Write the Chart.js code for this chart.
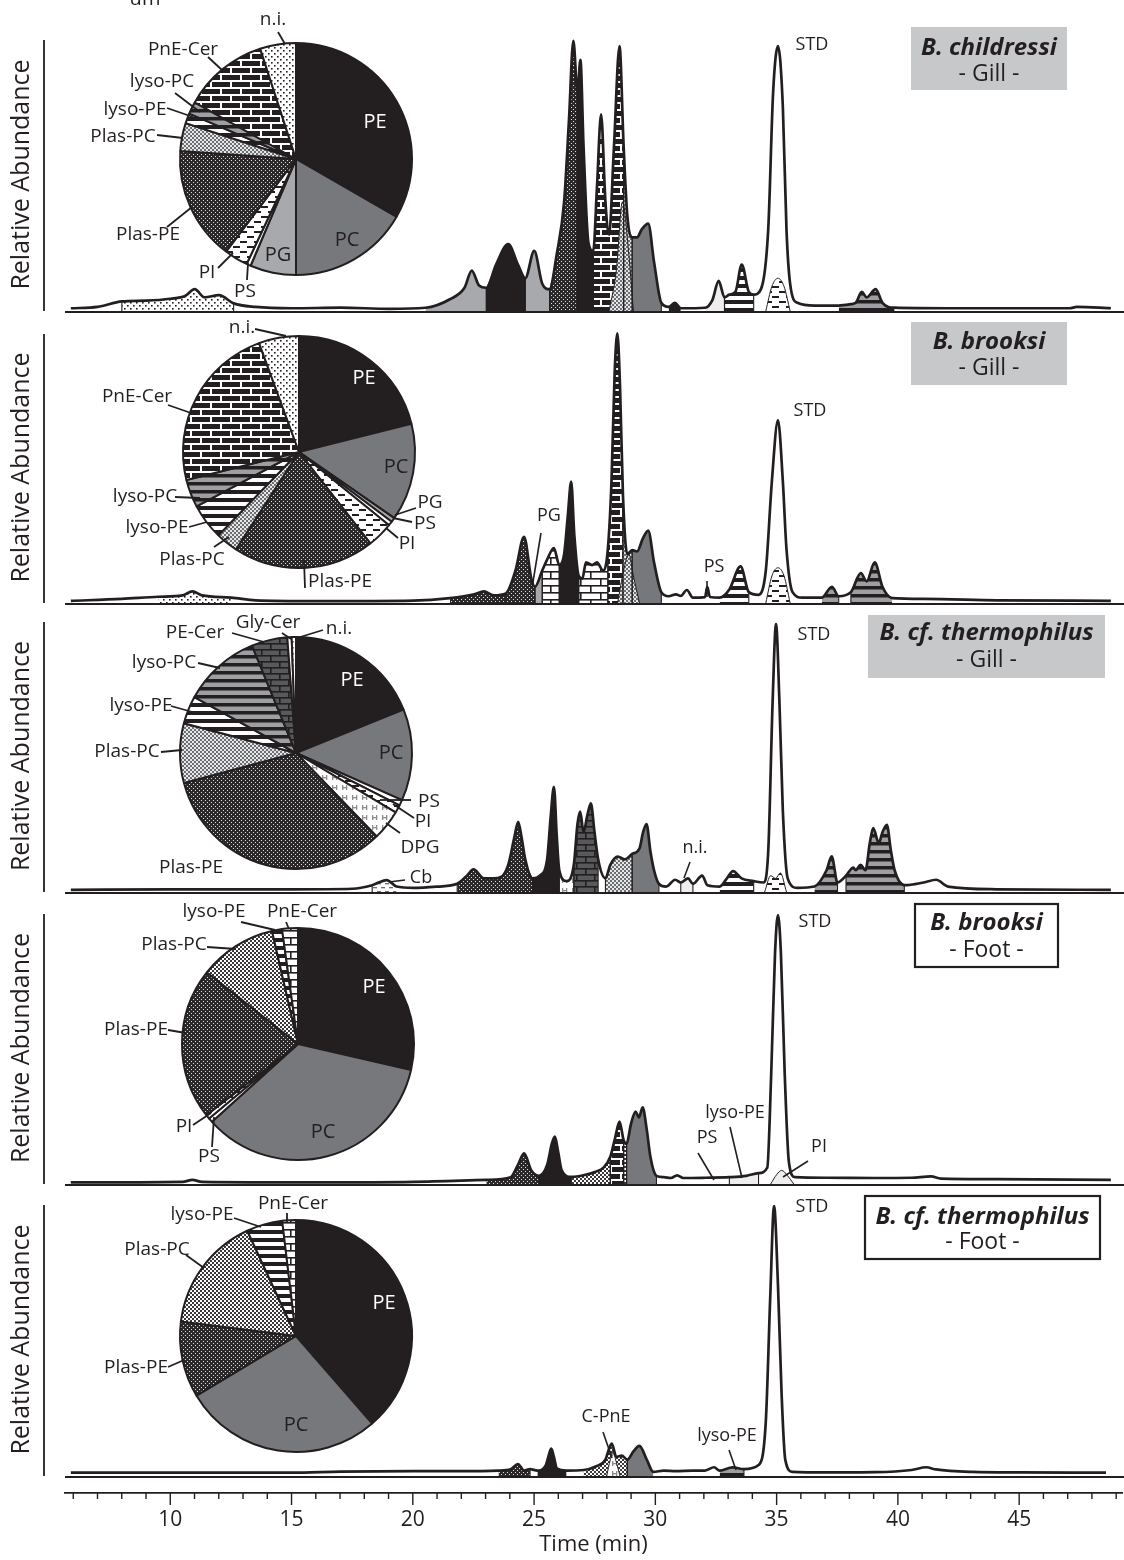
<!DOCTYPE html>
<html><head><meta charset="utf-8">
<script src="https://cdn.jsdelivr.net/npm/chart.js@4.4.1/dist/chart.umd.min.js"></script>
<style>
html,body{margin:0;padding:0;background:#fff;}
#wrap{position:relative;width:1124px;height:1560px;overflow:hidden;background:#fff;}
#wrap canvas{position:absolute;}
</style></head><body><div id="wrap"></div>
<script>
// ---------------- DATA ----------------
const xMin = 5.66, xMax = 49.24;
const timeTickLabels = [10, 15, 20, 25, 30, 35, 40, 45];

// Panel 1: B. childressi gill
const p1Time = [5.9,7.0,8.0,9.0,10.0,10.6,11.0,11.4,12.0,12.6,13.5,15,17,19,20.5,21.5,22.1,22.4,22.7,23.0,23.4,23.9,24.3,24.6,24.97,25.3,25.6,25.9,26.2,26.4,26.58,26.75,26.87,27.0,27.2,27.4,27.55,27.72,27.9,28.05,28.25,28.48,28.65,28.8,29.0,29.2,29.4,29.66,29.9,30.2,30.5,30.76,31.0,32.0,32.3,32.56,32.8,33.0,33.25,33.51,33.8,34.0,34.3,34.6,34.8,35.0,35.2,35.35,35.5,35.8,36.5,37.5,38.0,38.2,38.45,38.65,39.02,39.3,39.8,42,47,47.3,48.7];
const p1Abund = [1.0,1.5,3.5,3.8,4.5,5.5,8.0,5.0,5.8,2.8,1.5,1.0,1.2,0.8,1.2,4.3,8.5,14.8,9.3,8.5,17,24.5,17,12,22,10,8,21,40,70,99,80,92,60,25,22,45,72,40,28,60,97,60,35,27,27,30,32,18,3,1.5,3,1,1.2,4,11,5,6,7,17,7,6,8,30,80,97,75,30,10,3,2,2,2.5,3,7,5,8,3,1.2,1.0,1.0,1.5,1.0];
const p1Fills = [['ni',8.0,12.6],['PG',20.5,23.0],['PE',23.0,24.6],['PG',24.6,25.6],['PlasPE',25.6,26.75],['PE',26.75,27.4],['PnECer',27.4,28.65],['PlasPC',28.65,29.0],['PC',29.0,30.2],['PE',30.5,31.0],['light',32.0,32.8],['lysoPE',32.8,34.0],['lysoPC',37.5,39.8]];
const p1SubTime = [[28.05,28.35,28.6,28.85,29.05],[34.5,34.75,35.0,35.25,35.5]];
const p1SubAbund = [[0,15,40,22,0],[0,9,12,9,0]];
const p1SubClass = ['PlasPC','PI'];

// Panel 2: B. brooksi gill
const p2Time = [5.9,8,9.5,10.5,10.9,11.3,12.5,13.5,16,20,21.5,22.5,22.9,23.3,23.8,24.2,24.55,24.85,25.0,25.3,25.5,25.78,26.0,26.2,26.35,26.49,26.62,26.8,26.95,27.1,27.35,27.55,27.8,28.0,28.15,28.28,28.39,28.5,28.62,28.8,29.0,29.2,29.45,29.66,29.9,30.2,30.5,30.8,31.0,31.25,31.5,32.0,32.09,32.2,32.6,33.0,33.46,33.8,34.2,34.5,34.75,35.0,35.2,35.35,35.6,36.0,36.8,37.22,37.5,38.0,38.41,38.65,38.98,39.3,39.7,41,44,48.7];
const p2Abund = [0.8,1.5,2.3,2.8,4.3,2.8,2.0,1.0,0.7,0.9,1.8,3.2,4.3,2.8,3.5,12,24.4,9,6,12,16,20.3,14,18,32,44.8,25,10,9,15,14,15,12,20,45,85,99.5,80,40,18,19.5,19,24,26.7,15,4,2.5,3.2,2.6,4.8,2,2.2,6,2.2,2.0,5,13.5,4,3,12,45,67.5,45,20,4,2,2,6,2.5,4,11,8,15,6,1.8,1.5,1.0,0.8];
const p2Fills = [['ni',9.5,12.5],['PlasPE',21.5,23.8],['PlasPE',23.8,25.0],['PG',25.0,25.3],['PnECerW',25.3,26.0],['PE',26.0,26.8],['PnECerW',26.8,28.0],['PnECer',28.0,28.62],['PlasPC',28.62,29.0],['PC',29.0,30.2],['lysoPE',32.6,33.8],['lysoPC',36.8,37.5],['lysoPC',38.0,39.7]];
const p2SubTime = [[28.4,28.65,28.86,29.05,29.3],[34.5,34.75,35.0,35.25,35.5]];
const p2SubAbund = [[0,12,18,10,0],[0,10,13,10,0]];
const p2SubClass = ['PlasPC','PI'];

// Panel 3: B. cf. thermophilus gill
const p3Time = [5.9,10,15,17.5,18.3,18.9,19.3,20,21,21.8,22.2,22.47,22.9,23.3,23.6,23.9,24.15,24.31,24.45,24.6,24.9,25.2,25.5,25.65,25.78,25.9,26.0,26.3,26.6,26.75,26.86,27.0,27.15,27.3,27.45,27.6,27.9,28.1,28.41,28.7,29.0,29.3,29.45,29.59,29.75,29.9,30.1,30.4,30.77,31.0,31.3,31.5,31.88,32.1,32.6,32.9,33.15,33.5,34.0,34.4,34.6,34.78,34.92,35.06,35.2,35.4,35.8,36.5,37.0,37.21,37.45,37.8,38.1,38.2,38.4,38.6,38.78,38.92,39.15,39.3,39.48,39.65,39.8,40.2,41.0,41.51,42,44,48.7];
const p3Abund = [0.8,1,1,1.2,2.5,4.4,2.0,1.5,2,3,6,8.3,5,5,5.5,10,20,25.8,20,12,5,6,12,28,38.7,20,8,4,10,25,29.6,22,28,32.6,22,12,5,10,13,12,14,16,22,25,15,8,3,2,4.5,3.5,5,3,6,2.5,2,5,7.7,5,4,3.5,15,70,98.5,70,30,5,1.5,2,8,13.1,3.5,6,9,8,10,8,18,23.5,18,22,24.7,15,8,2.5,3.5,4.5,2,1,0.8];
const p3Fills = [['Cb',18.3,19.3],['PlasPE',21.8,24.9],['PE',24.9,26.0],['DPG',26.0,26.6],['PECer',26.6,27.6],['PlasPC',27.9,29.0],['PC',29.0,30.1],['light',31.0,31.5],['lysoPE',32.6,34.0],['lysoPC',36.5,37.45],['lysoPC',37.8,40.2]];
const p3SubTime = [[34.45,34.7,34.9,35.1,35.35]];
const p3SubAbund = [[0,6,5,7,0]];
const p3SubClass = ['PI'];

// Panel 4: B. brooksi foot
const p4Time = [5.9,10.5,10.9,11.3,16,20,23,24.0,24.3,24.55,24.85,25.16,25.5,25.7,25.82,25.95,26.1,26.49,27.0,27.5,27.82,28.1,28.3,28.48,28.65,28.77,28.95,29.14,29.28,29.43,29.6,29.75,30.0,30.3,30.6,30.85,31.1,32,33,33.7,34.2,34.56,34.72,34.88,35.0,35.12,35.28,35.45,35.7,37,39,40.5,41.3,41.7,44,48.7];
const p4Abund = [0.6,0.8,1.5,0.8,0.6,0.8,1.5,2.5,7,11.3,5,3,7,15,17.4,12,5,2.6,3.2,4.5,6,10,17,22.9,16,14.8,22,26.6,24.5,28.2,20,10,3,2.5,2.2,3.2,2.2,2.3,2.5,3,4,6,40,85,98.9,85,40,8,2.5,2.3,2.2,2.3,2.8,2.0,1.8,1.5];
const p4Fills = [['PlasPE',23,25.16],['PE',25.16,26.49],['PlasPC2',26.49,28.1],['PnECer',28.1,28.65],['PlasPC2',28.65,28.77],['PC',28.77,30.0],['light',33,34.2]];
const p4SubTime = [[34.7,34.95,35.15,35.4,35.65]];
const p4SubAbund = [[0,3.5,5,3,0]];
const p4SubClass = ['light'];

// Panel 5: B. cf. thermophilus foot
const p5Time = [5.9,10,15,17,20,22,23.5,24.0,24.3,24.55,24.8,25.1,25.45,25.58,25.67,25.78,25.9,26.3,27.0,27.5,27.9,28.05,28.16,28.35,28.57,28.8,29.05,29.3,29.6,29.87,30.3,30.8,31.5,32.0,32.37,32.6,33.13,33.6,34.2,34.5,34.68,34.84,35.0,35.15,35.3,35.6,37,39,40.5,41.1,41.5,43,45,48.5];
const p5Abund = [1.2,1.2,1.2,1.6,1.8,1.8,2,2.5,4.4,2,2.5,2,4,8,10,7,2.8,2,2.2,3.5,6,10,11.9,7,7.5,6,9,11,6,1.5,2,1.8,2,2,3.2,2,3.2,2.5,4,20,65,98.9,70,30,6,1.5,1.3,1.4,2.2,3.2,2.4,1.5,1.3,1.2];
const p5Fills = [['PlasPE',23.5,24.8],['PE',25.1,26.3],['PlasPC2',27.0,28.8],['PC',28.8,29.87],['lysoPC',32.6,33.6]];
const p5SubTime = [[27.95,28.1,28.2,28.35,28.5]];
const p5SubAbund = [[0,6,9,5,0]];
const p5SubClass = ['DPG'];

// Pie charts (lipid class composition, %)
const pie1Labels = ['PE','PC','PG','PS','PI','Plas-PE','Plas-PC','lyso-PE','lyso-PC','PnE-Cer','n.i.'];
const pie1Values = [33.3,16.7,6.4,0.6,3.3,15.8,3.9,1.4,1.7,11.9,5.0];
const pie2Labels = ['PE','PC','PG','PS','PI','Plas-PE','Plas-PC','lyso-PE','lyso-PC','PnE-Cer','n.i.'];
const pie2Values = [21.1,13.6,0.6,0.6,3.6,19.7,3.1,5.0,3.9,23.3,5.6];
const pie3Labels = ['PE','PC','PS','PI','DPG','Plas-PE','Plas-PC','lyso-PE','lyso-PC','PE-Cer','Gly-Cer','n.i.'];
const pie3Values = [18.9,12.8,0.8,1.1,4.2,33.1,8.3,3.9,10.8,5.0,0.6,0.6];
const pie4Labels = ['PE','PC','PS','PI','Plas-PE','Plas-PC','lyso-PE','PnE-Cer'];
const pie4Values = [28.6,34.7,0.6,0.6,21.1,10.8,1.4,2.2];
const pie5Labels = ['PE','PC','Plas-PE','Plas-PC','lyso-PE','PnE-Cer'];
const pie5Values = [38.6,27.8,10.6,16.1,5.0,1.9];

// ---------------- STYLE / LAYOUT ----------------
const FONT = "'Open Sans', 'DejaVu Sans', sans-serif";
const INK = '#231f20';
const wrap = document.getElementById('wrap');

const patCache = {};
function pattern(kind) {
  if (patCache[kind]) return patCache[kind];
  const solid = {PE:'#231f20', PC:'#77787b', PG:'#a7a9ac', PS:'#ffffff', GlyCer:'#ffffff', light:'#eeeeef'};
  if (solid[kind]) return solid[kind];
  const c = document.createElement('canvas');
  const g = c.getContext('2d');
  const sz = (w, h) => { c.width = w; c.height = h; };
  switch (kind) {
    case 'ni':
      sz(6,6); g.fillStyle='#fff'; g.fillRect(0,0,6,6); g.fillStyle=INK;
      g.fillRect(1,1,1.6,1.6); g.fillRect(4,4,1.6,1.6); break;
    case 'PlasPE':
      sz(4,4); g.fillStyle='#2a2829'; g.fillRect(0,0,4,4); g.fillStyle='#e0e0e0';
      g.fillRect(1,1,1,1); g.fillRect(3,3,1,1); break;
    case 'PlasPC':
      sz(4,4); g.fillStyle='#e6e7e8'; g.fillRect(0,0,4,4); g.fillStyle='#6d6e71';
      g.fillRect(0,0,2,2); g.fillRect(2,2,2,2); break;
    case 'PlasPC2':
      sz(4,4); g.fillStyle='#ffffff'; g.fillRect(0,0,4,4); g.fillStyle='#3a3839';
      g.fillRect(0,0,2,2); g.fillRect(2,2,2,2); break;
    case 'PI':
      sz(14,10); g.fillStyle='#fff'; g.fillRect(0,0,14,10); g.fillStyle=INK;
      g.fillRect(2,2,7,2); g.fillRect(9,7,5,2); g.fillRect(0,7,2,2); break;
    case 'lysoPE':
      sz(8,8); g.fillStyle='#fff'; g.fillRect(0,0,8,8); g.fillStyle=INK; g.fillRect(0,0,8,4); break;
    case 'lysoPC':
      sz(8,8); g.fillStyle='#9d9fa2'; g.fillRect(0,0,8,8); g.fillStyle=INK; g.fillRect(0,0,8,3.5); break;
    case 'PnECer':
      sz(20,14); g.fillStyle=INK; g.fillRect(0,0,20,14); g.fillStyle='#fff';
      g.fillRect(0,0,20,2); g.fillRect(0,7,20,2); g.fillRect(0,0,2,7); g.fillRect(10,7,2,7); break;
    case 'PnECerW':
      sz(20,14); g.fillStyle='#fff'; g.fillRect(0,0,20,14); g.fillStyle=INK;
      g.fillRect(0,0,20,1.6); g.fillRect(0,7,20,1.6); g.fillRect(0,0,1.6,7); g.fillRect(10,7,1.6,7); break;
    case 'PECer':
      sz(18,12); g.fillStyle='#58595b'; g.fillRect(0,0,18,12); g.fillStyle=INK;
      g.fillRect(0,0,18,1.6); g.fillRect(0,6,18,1.6); g.fillRect(0,0,1.6,6); g.fillRect(9,6,1.6,6); break;
    case 'DPG':
      sz(10,10); g.fillStyle='#fff'; g.fillRect(0,0,10,10); g.fillStyle='#8a8c8e';
      g.fillRect(2,2,1.3,5); g.fillRect(6,2,1.3,5); g.fillRect(2,4,5,1.3); break;
    case 'Cb':
      sz(8,8); g.fillStyle='#fff'; g.fillRect(0,0,8,8); g.fillStyle='#6d6e71';
      g.fillRect(1,1,4,1.3); g.fillRect(5,5,3,1.3); g.fillRect(0,5,1,1.3); break;
    default:
      return '#ffffff';
  }
  patCache[kind] = g.createPattern(c, 'repeat');
  return patCache[kind];
}

const pieClass = {'PE':'PE','PC':'PC','PG':'PG','PS':'PS','PI':'PI','Plas-PE':'PlasPE','Plas-PC':'PlasPC','lyso-PE':'lysoPE','lyso-PC':'lysoPC','PnE-Cer':'PnECer','n.i.':'ni','PE-Cer':'PECer','Gly-Cer':'GlyCer','DPG':'DPG'};

function addCanvas(left, top, w, h) {
  const c = document.createElement('canvas');
  c.width = w; c.height = h;
  c.style.left = left + 'px'; c.style.top = top + 'px';
  c.style.width = w + 'px'; c.style.height = h + 'px';
  wrap.appendChild(c);
  return c;
}

function txt(ctx, s, x, y, size, o) {
  o = o || {};
  ctx.save();
  ctx.font = (o.style || 'normal') + ' ' + (o.weight || 'normal') + ' ' + size + 'px ' + FONT;
  ctx.fillStyle = o.color || INK;
  ctx.textAlign = o.align || 'center';
  ctx.textBaseline = o.baseline || 'middle';
  ctx.fillText(s, x, y);
  ctx.restore();
}
function seg(ctx, x1, y1, x2, y2, w) {
  ctx.save(); ctx.strokeStyle = INK; ctx.lineWidth = w || 1.6; ctx.lineCap = 'butt';
  ctx.beginPath(); ctx.moveTo(x1, y1); ctx.lineTo(x2, y2); ctx.stroke(); ctx.restore();
}

// panel layout (pixel positions only)
const panels = [
  {id:1, top:38, base:311, time:p1Time, abund:p1Abund, fills:p1Fills, subT:p1SubTime, subA:p1SubAbund, subC:p1SubClass,
   box:{x:911,y:27,w:156,h:63,fill:'#c7c8ca',border:false,name:'B. childressi',sub:'- Gill -',ny:48,sy:74},
   std:[812,45], notes:[]},
  {id:2, top:332, base:603, time:p2Time, abund:p2Abund, fills:p2Fills, subT:p2SubTime, subA:p2SubAbund, subC:p2SubClass,
   box:{x:911,y:322,w:156,h:63,fill:'#c7c8ca',border:false,name:'B. brooksi',sub:'- Gill -',ny:342,sy:368},
   std:[810,411], notes:[['PG',549,516,541,533,532,588],['PS',714,567,707,581,707,597]]},
  {id:3, top:620, base:892, time:p3Time, abund:p3Abund, fills:p3Fills, subT:p3SubTime, subA:p3SubAbund, subC:p3SubClass,
   box:{x:868,y:615,w:237,h:63,fill:'#c7c8ca',border:false,name:'B. cf. thermophilus',sub:'- Gill -',ny:633,sy:660},
   std:[814,635], notes:[['n.i.',695,848,690,862,684,878],['Cb',421,878,405,880,389,882]]},
  {id:4, top:912, base:1184, time:p4Time, abund:p4Abund, fills:p4Fills, subT:p4SubTime, subA:p4SubAbund, subC:p4SubClass,
   box:{x:915,y:904,w:143,h:63,fill:'#ffffff',border:true,name:'B. brooksi',sub:'- Foot -',ny:923,sy:950},
   std:[815,922], notes:[['PS',707,1138,698,1153,714,1180],['lyso-PE',735,1113,730,1127,742,1178],['PI',819,1147,808,1161,783,1177]]},
  {id:5, top:1203, base:1476, time:p5Time, abund:p5Abund, fills:p5Fills, subT:p5SubTime, subA:p5SubAbund, subC:p5SubClass,
   box:{x:865,y:1196,w:235,h:63,fill:'#ffffff',border:true,name:'B. cf. thermophilus',sub:'- Foot -',ny:1217,sy:1242},
   std:[812,1207], notes:[['C-PnE',606,1417,603,1432,612,1458],['lyso-PE',727,1436,729,1450,736,1470]]}
];

function buildPanel(P) {
  const padTop = 34, padBot = 14;
  const cTop = P.top - padTop;
  const h = (P.base - P.top) + padTop + padBot;
  const cv = addCanvas(0, cTop, 1124, h);
  const pts = P.time.map((t, i) => ({x: t, y: P.abund[i]}));
  const datasets = [{data: pts, borderColor: INK, borderWidth: 2.7, fill: false, pointRadius: 0,
    cubicInterpolationMode: 'monotone', order: 0, clip: false}];
  P.subT.forEach((st, k) => datasets.push({
    data: st.map((t, i) => ({x: t, y: P.subA[k][i]})), borderColor: INK, borderWidth: 1,
    backgroundColor: pattern(P.subC[k]), fill: 'origin', pointRadius: 0, cubicInterpolationMode: 'monotone', order: 1}));
  P.fills.forEach(([cls, t0, t1]) => datasets.push({
    data: pts.filter(p => p.x >= t0 && p.x <= t1), borderWidth: 0, borderColor: 'rgba(0,0,0,0)',
    backgroundColor: pattern(cls), fill: 'origin', pointRadius: 0, cubicInterpolationMode: 'monotone', order: 2}));

  const decor = {
    id: 'decor' + P.id,
    afterDatasetsDraw(chart) {
      const ctx = chart.ctx, sx = chart.scales.x, sy = chart.scales.y;
      P.fills.forEach(([cls, t0, t1]) => {
        [t0, t1].forEach(t => {
          const i = P.time.indexOf(t);
          if (i < 0 || P.abund[i] < 2.5) return;
          seg(ctx, sx.getPixelForValue(t), sy.getPixelForValue(0), sx.getPixelForValue(t), sy.getPixelForValue(P.abund[i]), 1.1);
        });
      });
    },
    afterDraw(chart) {
      const ctx = chart.ctx;
      const Y = v => v - cTop;
      // axes
      seg(ctx, 44, Y(P.top + 2), 44, Y(P.base), 1.8);
      seg(ctx, 65, Y(P.base + 1), 1124, Y(P.base + 1), 2.2);
      // y title
      ctx.save();
      ctx.translate(22, Y((P.top + P.base) / 2));
      ctx.rotate(-Math.PI / 2);
      txt(ctx, 'Relative Abundance', 0, 0, 25);
      ctx.restore();
      // STD label
      txt(ctx, 'STD', P.std[0], Y(P.std[1]), 18);
      // species box
      const b = P.box;
      ctx.save();
      ctx.fillStyle = b.fill; ctx.fillRect(b.x, Y(b.y), b.w, b.h);
      if (b.border) { ctx.strokeStyle = INK; ctx.lineWidth = 2.2; ctx.strokeRect(b.x, Y(b.y), b.w, b.h); }
      ctx.restore();
      const cx = b.x + b.w / 2;
      txt(ctx, b.name, cx, Y(b.ny), 24, {style: 'italic', weight: 'bold'});
      txt(ctx, b.sub, cx, Y(b.sy), 23);
      // annotations
      P.notes.forEach(n => {
        seg(ctx, n[3], Y(n[4]), n[5], Y(n[6]), 1.6);
        txt(ctx, n[0], n[1], Y(n[2]), 18);
      });
    }
  };

  new Chart(cv, {
    type: 'line',
    data: {datasets},
    options: {
      responsive: false, animation: false, events: [],
      layout: {padding: {left: 65, right: 0, top: padTop, bottom: padBot}},
      scales: {x: {type: 'linear', display: false, min: xMin, max: xMax}, y: {display: false, min: 0, max: 100}},
      plugins: {legend: {display: false}, tooltip: {enabled: false}}
    },
    plugins: [decor]
  });
}

const pies = [
  {labels: pie1Labels, values: pie1Values, cx: 296, cy: 159, over: {},
   inside: [['PE',375,122,'#fff'],['PC',347,240,INK],['PG',278,255,INK]],
   outside: [['n.i.',273,20,278,32,285,44],['PnE-Cer',183,50,208,57,223,71],['lyso-PC',162,82,175,93,200,112],
             ['lyso-PE',135,110,167,108,193,117],['Plas-PC',123,137,157,135,183,138],['Plas-PE',148,235,167,227,192,207],
             ['PI',207,273,218,268,233,253],['PS',245,292,247,280,248,263]], extra: true},
  {labels: pie2Labels, values: pie2Values, cx: 299, cy: 452, over: {},
   inside: [['PE',364,378,'#fff'],['PC',396,467,INK]],
   outside: [['n.i.',242,328,255,329,286,336],['PnE-Cer',137,397,168,405,191,413],['lyso-PC',145,497,175,497,200,498],
             ['lyso-PE',157,528,189,527,207,522],['Plas-PC',192,560,214,547,229,537],['Plas-PE',340,582,305,588,304,560],
             ['PG',430,503,416,508,395,515],['PS',425,524,412,522,393,518],['PI',407,544,398,538,386,528]]},
  {labels: pie3Labels, values: pie3Values, cx: 296, cy: 753, over: {},
   inside: [['PE',352,680,'#fff'],['PC',391,753,INK]],
   outside: [['Gly-Cer',268,623,282,633,291,639],['n.i.',339,629,323,630,297,638],['PE-Cer',195,633,232,633,264,642],
             ['lyso-PC',164,663,198,663,220,668],['lyso-PE',141,706,171,706,196,713],['Plas-PC',127,752,161,752,182,750],
             ['Plas-PE',191,868],['PS',429,802,411,800,380,800],['PI',423,822,414,818,393,804],['DPG',420,848,400,833,386,823]]},
  {labels: pie4Labels, values: pie4Values, cx: 298, cy: 1044, over: {'Plas-PC':'PlasPC2','PnE-Cer':'PnECerW'},
   inside: [['PE',374,987,'#fff'],['PC',323,1132,INK]],
   outside: [['lyso-PE',214,912,241,922,275,930],['PnE-Cer',302,912,286,922,289,929],['Plas-PC',174,945,207,947,236,949],
             ['Plas-PE',136,1030,168,1030,186,1033],['PI',184,1127,193,1125,211,1113],['PS',209,1157,212,1147,214,1117]]},
  {labels: pie5Labels, values: pie5Values, cx: 296, cy: 1336, over: {'Plas-PC':'PlasPC2','PnE-Cer':'PnECerW'},
   inside: [['PE',384,1303,'#fff'],['PC',296,1425,INK]],
   outside: [['lyso-PE',202,1215,234,1218,261,1227],['PnE-Cer',293,1204,287,1213,287,1223],
             ['Plas-PC',157,1250,186,1255,204,1268],['Plas-PE',136,1368,168,1367,184,1360]]}
];

function buildPie(Q) {
  const W = 480, H = 340, R = 116, half = 120;
  const cTop = Q.cy - 170;
  const cv = addCanvas(0, cTop, W, H);
  const colors = Q.labels.map(l => pattern(Q.over[l] || pieClass[l]));
  const labelsPlugin = {
    id: 'pielabels',
    afterDraw(chart) {
      const ctx = chart.ctx;
      const Y = v => v - cTop;
      Q.inside.forEach(t => txt(ctx, t[0], t[1], Y(t[2]), 20, {color: t[3]}));
      Q.outside.forEach(t => {
        if (t.length > 3) seg(ctx, t[3], Y(t[4]), t[5], Y(t[6]), 1.8);
        txt(ctx, t[0], t[1], Y(t[2]), 19);
      });
      if (Q.extra) txt(ctx, 'um', 145, Y(5), 20, {baseline: 'alphabetic'});
    }
  };
  new Chart(cv, {
    type: 'pie',
    data: {labels: Q.labels, datasets: [{data: Q.values, backgroundColor: colors, borderColor: INK, borderWidth: 2}]},
    options: {
      responsive: false, animation: false, events: [], radius: R,
      layout: {padding: {left: Q.cx - half, right: W - Q.cx - half, top: 170 - half, bottom: H - 170 - half}},
      plugins: {legend: {display: false}, tooltip: {enabled: false}}
    },
    plugins: [labelsPlugin]
  });
}

function buildAxis() {
  const cv = addCanvas(0, 1470, 1124, 90);
  const minor = {
    id: 'minorTicks',
    afterDraw(chart) {
      const s = chart.scales.x, ctx = chart.ctx;
      for (let v = Math.ceil(xMin); v <= Math.floor(xMax); v++) {
        const x = s.getPixelForValue(v);
        seg(ctx, x, s.top, x, s.top + (v % 5 === 0 ? 12 : 6), 1.4);
      }
    }
  };
  new Chart(cv, {
    type: 'line',
    data: {datasets: []},
    options: {
      responsive: false, animation: false, events: [],
      layout: {padding: {left: 65, right: 0, top: 0, bottom: 0}},
      scales: {
        x: {type: 'linear', min: xMin, max: xMax, position: 'bottom',
            afterFit: s => { s.height = 67; },
            grid: {display: false, drawTicks: true, tickLength: 12},
            border: {display: true, color: INK, width: 1.8},
            ticks: {stepSize: 5, autoSkip: false, maxRotation: 0, padding: 2, color: INK,
                    font: {family: FONT, size: 21},
                    callback: v => timeTickLabels.includes(v) ? String(v) : ''},
            title: {display: true, text: 'Time (min)', color: INK, font: {family: FONT, size: 22}, padding: {top: 0, bottom: 2}}},
        y: {display: false}
      },
      plugins: {legend: {display: false}, tooltip: {enabled: false}}
    },
    plugins: [minor]
  });
}

panels.forEach(buildPanel);
pies.forEach(buildPie);
buildAxis();
</script>
</body></html>
